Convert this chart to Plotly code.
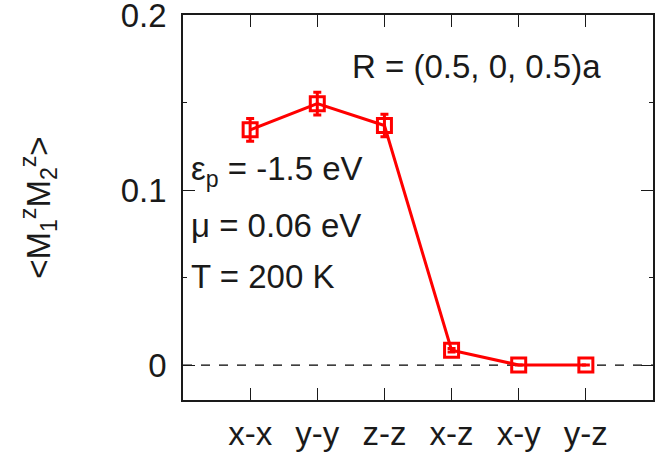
import plotly.graph_objects as go

# Spin correlation for each orbital pair
pairs = ["x-x", "y-y", "z-z", "x-z", "x-y", "y-z"]
corr = [0.1345, 0.1495, 0.1370, 0.0085, 0.0, 0.0]
corr_err = [0.0065, 0.0065, 0.0065, 0.001, 0.0, 0.0]

positions = list(range(len(pairs)))
FONT = "Liberation Sans, Arial, Helvetica, sans-serif"
RED = "#ff0000"
INK = "#1a1a1a"

fig = go.Figure()

fig.add_trace(go.Scatter(
    x=positions,
    y=corr,
    mode="lines+markers",
    line=dict(color=RED, width=3),
    marker=dict(symbol="square-open", size=14, color=RED, line=dict(width=3, color=RED)),
    error_y=dict(type="data", array=corr_err, color=RED, thickness=3, width=4),
    showlegend=False,
))

# Dashed reference line at zero
fig.add_shape(type="line", xref="paper", x0=0, x1=1, yref="y", y0=0, y1=0,
              line=dict(color="black", width=1.2, dash="dash"), layer="below")

text_font = dict(family=FONT, size=33, color=INK)
fig.add_annotation(text="R = (0.5, 0, 0.5)a", xref="paper", x=0.355, yref="y", y=0.1705,
                   xanchor="left", yanchor="middle", showarrow=False, font=text_font)
fig.add_annotation(text="ε<sub>p</sub> = -1.5 eV", xref="paper", x=0.012, yref="y", y=0.111,
                   xanchor="left", yanchor="middle", showarrow=False, font=text_font)
fig.add_annotation(text="μ = 0.06 eV", xref="paper", x=0.012, yref="y", y=0.080,
                   xanchor="left", yanchor="middle", showarrow=False, font=text_font)
fig.add_annotation(text="T = 200 K", xref="paper", x=0.012, yref="y", y=0.0505,
                   xanchor="left", yanchor="middle", showarrow=False, font=text_font)

# Vertical axis title
fig.add_annotation(text="&lt;M<sub>1</sub><sup>z</sup>M<sub>2</sub><sup>z</sup>&gt;",
                   xref="paper", x=-0.308, yref="paper", y=0.5, textangle=-90,
                   xanchor="center", yanchor="middle", showarrow=False, font=text_font)

fig.update_layout(
    width=668, height=461,
    margin=dict(l=183, r=15, t=15, b=61),
    paper_bgcolor="white", plot_bgcolor="white",
    font=dict(family=FONT, size=33, color=INK),
    xaxis=dict(
        range=[-1, 6], tickmode="array", tickvals=positions, ticktext=pairs,
        ticks="inside", ticklen=12, tickwidth=1.2, tickcolor=INK,
        showline=True, linecolor=INK, linewidth=1.5, mirror="ticks",
        showgrid=False, zeroline=False, ticklabelstandoff=4, automargin=False,
    ),
    yaxis=dict(
        range=[-0.02, 0.2002], tickmode="array", tickvals=[0, 0.1, 0.2],
        ticktext=["0", "0.1", "0.2"], ticklabeloverflow="allow",
        ticks="inside", ticklen=12, tickwidth=1.2, tickcolor=INK,
        minor=dict(ticks="inside", ticklen=4, tickvals=[0.05, 0.15], tickcolor=INK, showgrid=False),
        showline=True, linecolor=INK, linewidth=1.5, mirror="ticks",
        showgrid=False, zeroline=False, ticklabelstandoff=8, automargin=False,
    ),
)

fig.write_html("out.html")
